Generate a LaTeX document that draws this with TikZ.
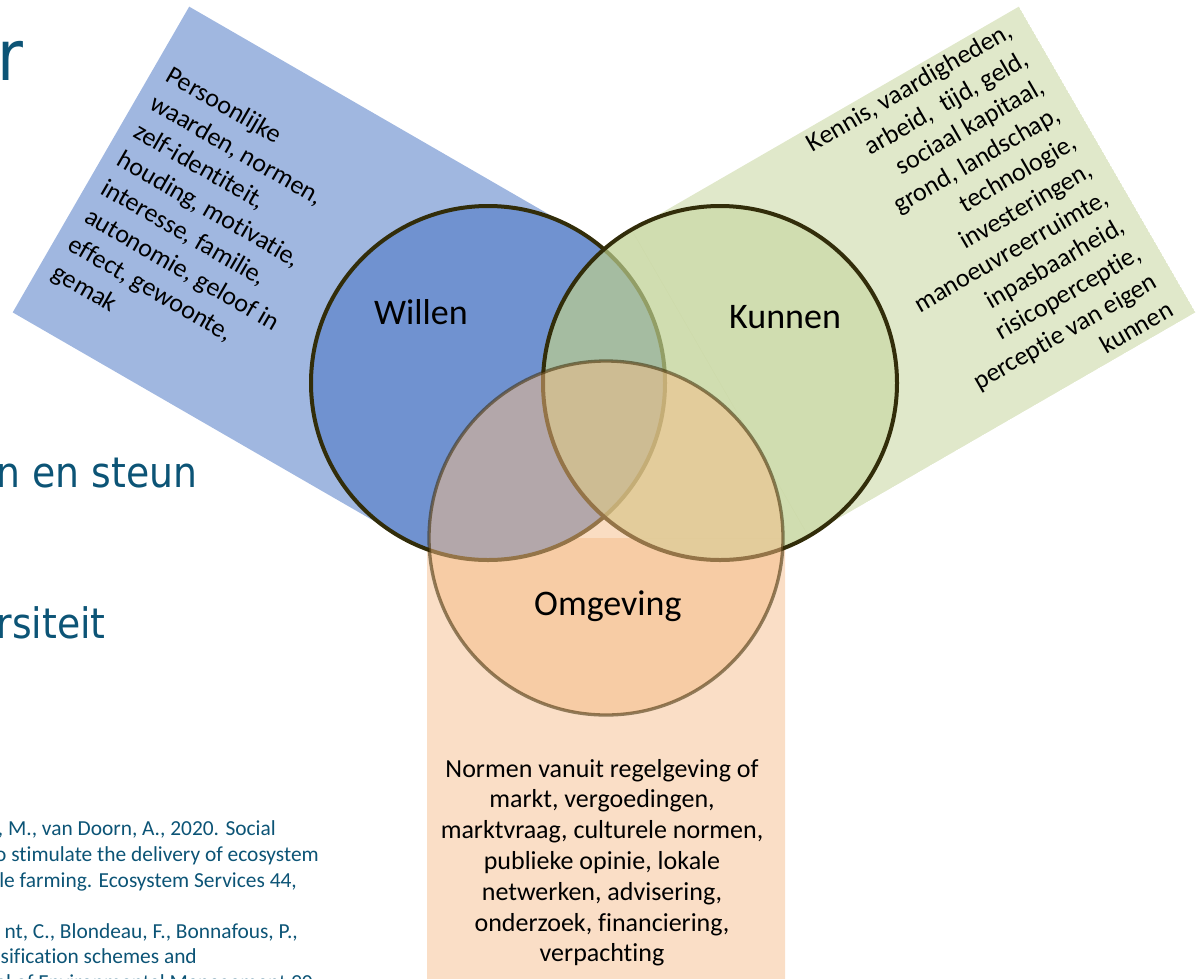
\documentclass[tikz,border=0pt]{standalone}
\usepackage{fontspec}
\setmainfont{Carlito}[Ligatures=NoCommon]
\newfontfamily\slidefont[FakeStretch=0.9]{DejaVu Sans}
\definecolor{slideteal}{RGB}{12,84,118}
\definecolor{wilrect}{RGB}{160,183,224}
\definecolor{wilfill}{RGB}{112,146,208}
\definecolor{kunrect}{RGB}{224,232,202}
\definecolor{kunfill}{RGB}{188,206,142}
\definecolor{omgrect}{RGB}{250,222,198}
\definecolor{omgfill}{RGB}{246,188,134}
\definecolor{ring}{RGB}{50,45,10}
\definecolor{ringo}{RGB}{58,40,0}
\tikzset{
  setcircle/.style={circle, minimum size=354pt, inner sep=0pt, outer sep=0pt},
  boxtxt/.style={font=\fontsize{26}{31}\selectfont, inner sep=0pt, text=black},
  bigtxt/.style={font=\fontsize{36}{43}\selectfont, inner sep=0pt, text=black, anchor=base west},
  slidetxt/.style={font=\slidefont\fontsize{42}{50}\selectfont, text=slideteal, inner sep=0pt},
  reftxt/.style={font=\fontsize{21.4}{26}\selectfont, text=slideteal, inner sep=0pt, anchor=base east},
}
\begin{document}
\begin{tikzpicture}[x=1pt,y=-1pt]
\useasboundingbox (0,0) rectangle (1196,978);
% background bands
\fill[wilrect] (189.2,6.65) -- (12.7,312.4) -- (399.75,535.85) -- (576.25,230.15) -- cycle;
\begin{scope}
  \clip (1018.85,6.65) -- (1195.35,312.35) -- (808.25,535.85) -- (631.75,230.15) -- cycle;
  \fill[kunrect, even odd rule] (1018.85,6.65) -- (1195.35,312.35) -- (808.25,535.85) -- (631.75,230.15) -- cycle
     (720,383) circle[radius=177];
\end{scope}
\begin{scope}
  \clip (427,538) rectangle (785,982);
  \fill[omgrect, even odd rule] (427,538) rectangle (785,982) (720,383) circle[radius=177];
\end{scope}
% circles
\node[setcircle, fill=wilfill, draw=ring, line width=4pt] (willen) at (488,383) {};
\node[setcircle, fill=kunfill, fill opacity=0.7, draw=ring, line width=4pt] (kunnen) at (720,383) {};
\node[setcircle, fill=omgfill, fill opacity=0.5, draw=ringo, draw opacity=0.55, line width=3.3pt] (omgeving) at (606,538) {};
% labels
\node[bigtxt] (lwillen) at (374,324) {Willen};
\node[bigtxt] (lkunnen) at (729,328) {Kunnen};
\node[bigtxt] (lomgeving) at (534,615) {Omgeving};
% Willen box text
\begin{scope}[shift={(164.5,80)}, rotate=-30, transform shape]
\node[boxtxt, anchor=base west] (w1) at (0,0) {Persoonlijke};
\node[boxtxt, anchor=base west] (w2) at (0,32.6) {waarden, normen,};
\node[boxtxt, anchor=base west] (w3) at (0,65.2) {zelf-identiteit,};
\node[boxtxt, anchor=base west] (w4) at (0,97.8) {houding, motivatie,};
\node[boxtxt, anchor=base west] (w5) at (0,130.4) {interesse, familie,};
\node[boxtxt, anchor=base west] (w6) at (0,163) {autonomie, geloof in};
\node[boxtxt, anchor=base west] (w7) at (0,195.6) {effect, gewoonte,};
\node[boxtxt, anchor=base west] (w8) at (0,228.2) {gemak};
\end{scope}
% Kunnen box text
\begin{scope}[shift={(1014,36)}, rotate=30, transform shape]
\node[boxtxt, anchor=base east] (k1) at (0,0) {Kennis, vaardigheden,};
\node[boxtxt, anchor=base east] (k2) at (0,32.2) {arbeid,~~tijd, geld,};
\node[boxtxt, anchor=base east] (k3) at (0,64.4) {sociaal kapitaal,};
\node[boxtxt, anchor=base east] (k4) at (0,96.6) {grond, landschap,};
\node[boxtxt, anchor=base east] (k5) at (0,128.8) {technologie,};
\node[boxtxt, anchor=base east] (k6) at (0,161) {investeringen,};
\node[boxtxt, anchor=base east] (k7) at (0,193.2) {manoeuvreerruimte,};
\node[boxtxt, anchor=base east] (k8) at (0,225.4) {inpasbaarheid,};
\node[boxtxt, anchor=base east] (k9) at (0,257.6) {risicoperceptie,};
\node[boxtxt, anchor=base east] (k10) at (0,289.8) {perceptie van eigen};
\node[boxtxt, anchor=base east] (k11) at (0,322) {kunnen};
\end{scope}
% Omgeving box text
\node[boxtxt, anchor=base] (o1) at (602,777) {Normen vanuit regelgeving of};
\node[boxtxt, anchor=base] (o2) at (602,807.8) {markt, vergoedingen,};
\node[boxtxt, anchor=base] (o3) at (602,838.6) {marktvraag, culturele normen,};
\node[boxtxt, anchor=base] (o4) at (602,869.4) {publieke opinie, lokale};
\node[boxtxt, anchor=base] (o5) at (602,900.2) {netwerken, advisering,};
\node[boxtxt, anchor=base] (o6) at (602,931) {onderzoek, financiering,};
\node[boxtxt, anchor=base] (o7) at (602,961.8) {verpachting};
% slide fragments
\node[slidetxt, font=\slidefont\fontsize{70}{80}\selectfont, anchor=base west] (s1) at (-2.7,80) {r};
\node[slidetxt, anchor=base east] (s2) at (197.5,487) {n en steun};
\node[slidetxt, anchor=base east] (s3) at (106,638) {rsiteit};
% references
\node[reftxt] (r1) at (276,835) {, M., van Doorn, A., 2020. Social};
\node[reftxt] (r2) at (319,861) {o stimulate the delivery of ecosystem};
\node[reftxt] (r3) at (297,887) {le farming. Ecosystem Services 44,};
\node[reftxt] (r4) at (298,938) {nt, C., Blondeau, F., Bonnafous, P.,};
\node[reftxt] (r5) at (197,963) {sification schemes and};
\node[reftxt] (r6) at (313,989) {al of Environmental Management 90};
\end{tikzpicture}
\end{document}
